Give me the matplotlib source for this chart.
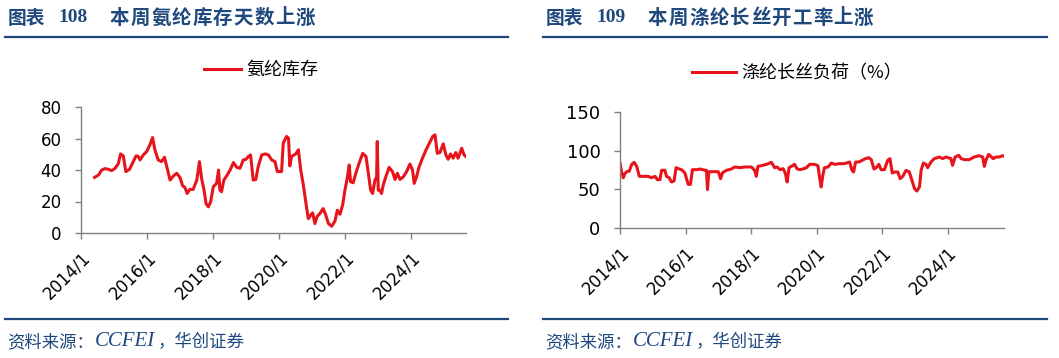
import numpy as np
import matplotlib
matplotlib.use("Agg")
import matplotlib.pyplot as plt
from matplotlib.lines import Line2D

plt.rcParams['font.family'] = ['DejaVu Sans', 'Noto Sans CJK SC']

# 氨纶库存天数 (decimal year, days)
spandex_t = [2014.41, 2014.53, 2014.63, 2014.73, 2014.83, 2014.93, 2015.03, 2015.13, 2015.20, 2015.28,
             2015.36, 2015.47, 2015.57, 2015.67, 2015.74, 2015.79, 2015.89, 2015.99, 2016.09, 2016.17,
             2016.24, 2016.34, 2016.44, 2016.53, 2016.60, 2016.70, 2016.80, 2016.90, 2017.00, 2017.08,
             2017.15, 2017.22, 2017.30, 2017.40, 2017.51, 2017.59, 2017.66, 2017.73, 2017.79, 2017.86,
             2017.93, 2018.01, 2018.11, 2018.17, 2018.21, 2018.26, 2018.33, 2018.43, 2018.52, 2018.62,
             2018.72, 2018.82, 2018.92, 2019.00, 2019.07, 2019.14, 2019.22, 2019.30, 2019.37, 2019.48,
             2019.58, 2019.68, 2019.78, 2019.88, 2019.95, 2020.08, 2020.13, 2020.23, 2020.29, 2020.33,
             2020.38, 2020.46, 2020.51, 2020.59, 2020.66, 2020.74, 2020.82, 2020.89, 2020.96, 2021.02,
             2021.09, 2021.16, 2021.24, 2021.34, 2021.42, 2021.50, 2021.60, 2021.70, 2021.77, 2021.85,
             2021.93, 2022.00, 2022.07, 2022.13, 2022.17, 2022.25, 2022.33, 2022.43, 2022.54, 2022.64,
             2022.71, 2022.78, 2022.84, 2022.91, 2022.96, 2022.98, 2023.01, 2023.06, 2023.11, 2023.16,
             2023.24, 2023.34, 2023.44, 2023.52, 2023.59, 2023.67, 2023.77, 2023.87, 2023.97, 2024.05,
             2024.10, 2024.17, 2024.25, 2024.35, 2024.46, 2024.56, 2024.66, 2024.73, 2024.80, 2024.88,
             2024.98, 2025.06, 2025.13, 2025.20, 2025.28, 2025.36, 2025.43, 2025.54, 2025.61, 2025.67]
spandex_v = [35.3, 36.8, 40.0, 40.9, 40.4, 39.6, 41.0, 44.0, 50.2, 49.0,
             39.0, 40.4, 44.7, 49.0, 48.5, 46.4, 49.6, 51.7, 56.0, 60.6,
             52.8, 46.4, 45.3, 48.1, 42.1, 33.6, 36.2, 37.9, 35.3, 30.0,
             28.9, 25.1, 27.7, 27.7, 33.6, 45.3, 34.0, 27.2, 18.7, 16.6,
             19.8, 29.4, 31.5, 40.0, 27.2, 26.2, 33.6, 36.8, 40.0, 44.7,
             41.7, 41.1, 46.4, 46.8, 48.5, 49.6, 33.6, 34.0, 42.1, 49.6,
             50.2, 49.6, 46.4, 45.3, 39.0, 39.0, 57.0, 61.3, 60.2, 42.6,
             48.5, 49.6, 50.2, 52.8, 40.0, 30.4, 18.7, 9.1, 11.3, 12.8,
             6.0, 10.6, 12.3, 15.5, 11.3, 6.0, 4.3, 7.7, 14.5, 11.9,
             17.7, 27.2, 34.7, 43.2, 32.6, 31.9, 37.9, 44.3, 50.6, 48.5,
             37.9, 27.2, 25.1, 33.6, 35.3, 58.1, 27.2, 27.2, 25.1, 30.4,
             35.7, 41.7, 39.0, 34.0, 37.9, 34.0, 35.7, 39.0, 43.8, 40.0,
             31.5, 35.7, 42.1, 47.5, 52.8, 57.0, 61.3, 62.3, 50.6, 51.1,
             56.6, 49.6, 46.8, 50.2, 47.5, 51.1, 47.5, 53.8, 49.6, 48.5]

# 涤纶长丝负荷 (decimal year, %)
poly_t = [2014.00, 2014.05, 2014.10, 2014.15, 2014.22, 2014.28, 2014.36, 2014.43, 2014.51, 2014.59,
          2014.71, 2014.86, 2014.96, 2015.07, 2015.14, 2015.22, 2015.27, 2015.37, 2015.42, 2015.50,
          2015.57, 2015.65, 2015.71, 2015.78, 2015.88, 2015.98, 2016.03, 2016.08, 2016.15, 2016.21,
          2016.34, 2016.44, 2016.59, 2016.64, 2016.67, 2016.71, 2016.84, 2017.00, 2017.07, 2017.13,
          2017.25, 2017.40, 2017.50, 2017.66, 2017.81, 2018.01, 2018.11, 2018.16, 2018.21, 2018.32,
          2018.47, 2018.62, 2018.72, 2018.79, 2018.89, 2018.98, 2019.05, 2019.10, 2019.16, 2019.26,
          2019.33, 2019.40, 2019.48, 2019.58, 2019.69, 2019.79, 2019.94, 2020.04, 2020.09, 2020.14,
          2020.19, 2020.24, 2020.35, 2020.45, 2020.55, 2020.70, 2020.85, 2021.01, 2021.08, 2021.13,
          2021.19, 2021.29, 2021.39, 2021.49, 2021.59, 2021.67, 2021.75, 2021.82, 2021.90, 2021.97,
          2022.07, 2022.17, 2022.24, 2022.31, 2022.38, 2022.48, 2022.55, 2022.63, 2022.73, 2022.83,
          2022.91, 2022.99, 2023.06, 2023.14, 2023.19, 2023.26, 2023.34, 2023.39, 2023.49, 2023.59,
          2023.75, 2023.85, 2023.95, 2024.10, 2024.15, 2024.23, 2024.34, 2024.41, 2024.51, 2024.66,
          2024.81, 2024.96, 2025.07, 2025.12, 2025.17, 2025.25, 2025.32, 2025.39, 2025.47, 2025.57,
          2025.68, 2025.73]
poly_v = [84.0, 72.4, 65.0, 70.3, 73.3, 73.3, 82.3, 84.9, 79.7, 66.8,
          66.8, 66.8, 65.0, 66.8, 62.5, 62.5, 74.6, 74.6, 66.8, 65.0,
          59.5, 60.8, 78.0, 76.7, 75.4, 71.1, 63.8, 56.5, 56.5, 75.4,
          75.4, 76.3, 74.6, 74.6, 49.6, 72.8, 72.8, 72.8, 63.8, 71.5,
          74.6, 76.3, 78.9, 78.0, 78.9, 78.9, 74.6, 66.8, 79.7, 80.6,
          82.3, 84.9, 78.0, 78.9, 75.4, 76.7, 70.3, 59.5, 78.0, 80.6,
          82.3, 76.7, 75.4, 76.3, 78.0, 82.3, 82.3, 80.6, 65.9, 53.0,
          68.1, 78.0, 78.9, 84.0, 82.3, 83.2, 83.2, 85.3, 74.6, 72.4,
          85.3, 85.3, 87.5, 89.7, 90.9, 88.4, 76.3, 78.0, 82.3, 75.4,
          75.4, 87.5, 89.7, 71.1, 72.4, 72.4, 63.8, 66.8, 74.6, 72.4,
          61.6, 50.9, 47.8, 53.0, 74.6, 84.0, 82.3, 78.0, 85.3, 89.7,
          91.8, 89.7, 91.8, 89.7, 81.0, 91.8, 94.0, 89.7, 88.4, 88.4,
          91.8, 93.5, 91.8, 79.7, 87.5, 95.2, 92.6, 89.7, 91.8, 91.8,
          93.5, 92.6]

year_ticks = [2014, 2016, 2018, 2020, 2022, 2024]
year_labels = ["2014/1", "2016/1", "2018/1", "2020/1", "2022/1", "2024/1"]

RED = '#e8141c'
BLUE = '#1f497d'
GRAY = '#808080'
CJK = ['Noto Sans CJK SC', 'DejaVu Sans']

W, H = 1059, 358
fig = plt.figure(figsize=(W / 100, H / 100), dpi=100)


def style_axes(ax, ymax, ystep, xmax, ysize):
    for s in ['top', 'right']:
        ax.spines[s].set_visible(False)
    for s in ['left', 'bottom']:
        ax.spines[s].set_color(GRAY)
        ax.spines[s].set_linewidth(1.0)
    ax.set_ylim(0, ymax)
    ax.set_yticks(np.arange(0, ymax + 1, ystep))
    ax.set_xlim(2014, xmax)
    ax.set_xticks(year_ticks)
    ax.set_xticklabels(year_labels, rotation=45, ha='right', rotation_mode='anchor')
    ax.tick_params(axis='both', colors=GRAY, labelcolor='black',
                   length=4, width=1.0, direction='out')
    ax.tick_params(axis='x', labelsize=12, pad=7)
    ax.tick_params(axis='y', labelsize=ysize, pad=10)


# left panel
ax1 = fig.add_axes([81 / W, 1 - 233 / H, 385 / W, 126 / H])
ax1.plot(spandex_t, spandex_v, color=RED, lw=2.2, label='氨纶库存')
style_axes(ax1, 80, 20, 2025.67, 12)
ax1.legend(loc='center', bbox_to_anchor=(261 / W, 1 - 70 / H), bbox_transform=fig.transFigure,
           frameon=False, prop={'family': CJK, 'size': 13}, handlelength=2.05, handletextpad=0.3)

# right panel
ax2 = fig.add_axes([620 / W, 1 - 228 / H, 384 / W, 116 / H])
ax2.plot(poly_t, poly_v, color=RED, lw=2.2, label='涤纶长丝负荷（%）')
style_axes(ax2, 150, 50, 2025.72, 13)
ax2.legend(loc='center', bbox_to_anchor=(797 / W, 1 - 73 / H), bbox_transform=fig.transFigure,
           frameon=False, prop={'family': CJK, 'size': 13}, handlelength=2.4, handletextpad=0.3)

# titles, rules, sources
panels = [(5, 508, '108', '本周氨纶库存天数上涨'),
          (543, 1047, '109', '本周涤纶长丝开工率上涨')]
for x0, x1, num, title in panels:
    ty = 1 - 18 / H
    fig.text((x0 + 3) / W, ty, '图表', color=BLUE, fontsize=13.5,
             fontweight='bold', family=CJK, va='center', ha='left')
    fig.text((x0 + 53) / W, ty, num, color=BLUE, fontsize=14,
             fontweight='bold', family='Liberation Serif', va='center', ha='left')
    for i, ch in enumerate(title):
        fig.text((x0 + 105 + i * 20.6) / W, ty, ch, color=BLUE, fontsize=14,
                 fontweight='bold', family=CJK, va='center', ha='left')
    for y in [37, 319]:
        fig.add_artist(Line2D([x0 / W, x1 / W], [1 - y / H, 1 - y / H],
                              color=BLUE, lw=1.6, transform=fig.transFigure))
    sy = 1 - 342 / H
    fig.text((x0 + 2) / W, sy, '资料来源：', color=BLUE, fontsize=12.5,
             style='italic', family=CJK, va='center', ha='left')
    fig.text((x0 + 90) / W, sy, 'CCFEI', color=BLUE, fontsize=15,
             style='italic', family='Liberation Serif', va='center', ha='left')
    fig.text((x0 + 153) / W, sy, '，华创证券', color=BLUE, fontsize=12.5,
             style='italic', family=CJK, va='center', ha='left')

fig.savefig('out.png', dpi=100)
